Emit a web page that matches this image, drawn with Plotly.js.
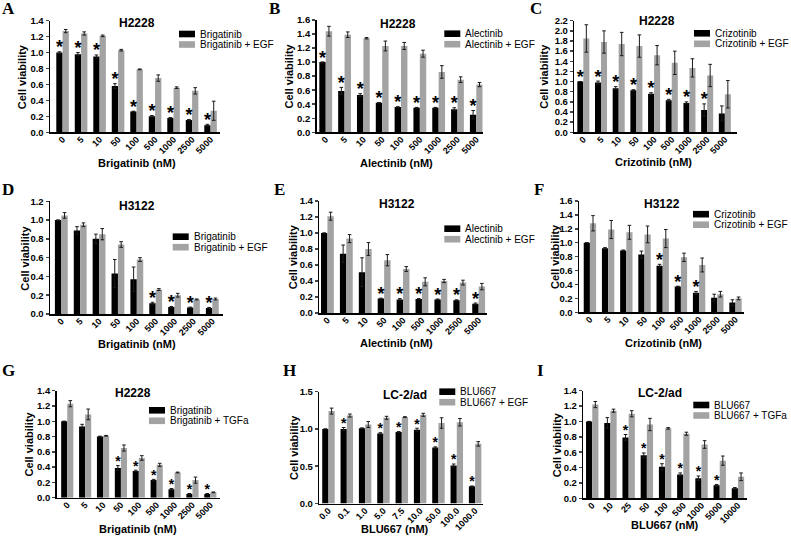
<!DOCTYPE html>
<html>
<head>
<meta charset="utf-8">
<script src="https://cdn.plot.ly/plotly-3.0.1.min.js"></script>
<style>html,body{margin:0;padding:0;background:#fff;}#chart{width:791px;height:541px;}</style>
</head>
<body>
<div id="chart"></div>
<script>
// ---------- Tick labels (doses) ----------
const dosesStd = ['0','5','10','50','100','500','1000','2500','5000'];
const dosesH = ['0.0','0.1','1.0','5.0','7.5','10.0','50.0','100.0','1000.0'];
const dosesI = ['0','10','25','50','100','500','1000','5000','10000'];

// ---------- A: H2228 Brigatinib ----------
const aDrug = [1.00,0.98,0.95,0.58,0.26,0.20,0.18,0.155,0.09];
const aDrugErr = [0.01,0.02,0.02,0.03,0.005,0.01,0.005,0.005,0.01];
const aEgf = [1.27,1.24,1.21,1.03,0.79,0.68,0.56,0.52,0.27];
const aEgfErr = [0.02,0.02,0.01,0.01,0.005,0.04,0.01,0.04,0.12];
const aStar = [1,1,1,1,1,1,1,1,1];
// ---------- B: H2228 Alectinib ----------
const bDrug = [1.00,0.59,0.53,0.42,0.36,0.35,0.35,0.33,0.25];
const bDrugErr = [0,0.05,0.02,0.005,0.005,0.005,0.005,0.02,0.06];
const bEgf = [1.44,1.39,1.34,1.23,1.23,1.12,0.86,0.75,0.68];
const bEgfErr = [0.07,0.04,0.01,0.07,0.05,0.05,0.09,0.04,0.03];
const bStar = [1,1,1,1,1,1,1,1,1];
// ---------- C: H2228 Crizotinib ----------
const cDrug = [1.00,0.98,0.87,0.83,0.76,0.63,0.58,0.44,0.37];
const cDrugErr = [0,0.03,0.03,0.01,0.02,0.02,0.02,0.12,0.15];
const cEgf = [1.85,1.78,1.74,1.70,1.52,1.37,1.27,1.12,0.75];
const cEgfErr = [0.27,0.22,0.23,0.22,0.19,0.23,0.18,0.22,0.27];
const cStar = [1,1,1,1,1,1,1,1,0];
// ---------- D: H3122 Brigatinib ----------
const dDrug = [1.00,0.89,0.80,0.43,0.37,0.115,0.075,0.068,0.065];
const dDrugErr = [0,0.04,0.05,0.15,0.13,0.01,0.005,0.005,0.005];
const dEgf = [1.05,0.95,0.85,0.74,0.58,0.26,0.20,0.155,0.16];
const dEgfErr = [0.03,0.02,0.06,0.03,0.02,0.01,0.02,0.005,0.01];
const dStar = [0,0,0,0,0,1,1,1,1];
// ---------- E: H3122 Alectinib ----------
const eDrug = [1.00,0.74,0.51,0.18,0.17,0.175,0.17,0.16,0.115];
const eDrugErr = [0,0.11,0.18,0.005,0.01,0.005,0.005,0.005,0.01];
const eEgf = [1.21,0.93,0.80,0.66,0.55,0.39,0.40,0.38,0.33];
const eEgfErr = [0.05,0.05,0.08,0.07,0.03,0.05,0.02,0.03,0.04];
const eStar = [0,0,0,1,1,1,1,1,1];
// ---------- F: H3122 Crizotinib ----------
const fDrug = [1.00,0.92,0.89,0.83,0.67,0.37,0.28,0.21,0.14];
const fDrugErr = [0,0.01,0.005,0.05,0.02,0.005,0.02,0.05,0.04];
const fEgf = [1.28,1.19,1.15,1.12,1.06,0.79,0.68,0.26,0.20];
const fEgfErr = [0.11,0.13,0.10,0.12,0.13,0.06,0.10,0.04,0.02];
const fStar = [0,0,0,0,1,1,1,0,0];
// ---------- G: H2228 Brigatinib + TGFa ----------
const gDrug = [1.00,0.93,0.80,0.39,0.35,0.23,0.11,0.05,0.05];
const gDrugErr = [0,0.03,0.005,0.03,0.01,0.01,0.01,0.005,0.005];
const gTgf = [1.23,1.09,0.81,0.65,0.52,0.43,0.33,0.23,0.07];
const gTgfErr = [0.04,0.07,0.005,0.04,0.03,0.02,0.005,0.04,0.005];
const gStar = [0,0,0,1,1,1,1,1,1];
// ---------- H: LC-2/ad BLU667 + EGF ----------
const hDrug = [1.00,1.00,1.01,0.94,0.96,0.99,0.75,0.51,0.23];
const hDrugErr = [0,0.02,0.005,0.01,0.005,0.02,0.01,0.02,0.005];
const hEgf = [1.24,1.18,1.06,1.15,1.16,1.19,1.08,1.09,0.80];
const hEgfErr = [0.04,0.02,0.04,0.02,0.005,0.02,0.07,0.05,0.03];
const hStar = [0,1,0,1,1,1,1,1,1];
// ---------- I: LC-2/ad BLU667 + TGFa ----------
const iDrug = [1.00,0.98,0.79,0.56,0.41,0.31,0.26,0.17,0.13];
const iDrugErr = [0,0.07,0.04,0.03,0.04,0.02,0.03,0.01,0.01];
const iTgf = [1.22,1.14,1.10,0.96,0.91,0.84,0.70,0.49,0.28];
const iTgfErr = [0.04,0.02,0.04,0.08,0.01,0.02,0.05,0.06,0.05];
const iStar = [0,0,1,1,1,1,1,1,0];

// ---------- Panel descriptions ----------
const panels = [
  {letter:'A', title:'H2228', drug:'Brigatinib', add:'Brigatinib + EGF', xtitle:'Brigatinib (nM)', labels:dosesStd, v1:aDrug, e1:aDrugErr, v2:aEgf, e2:aEgfErr, star:aStar, ymax:1.4, dtick:0.2,
   g:{x0:50,x1:220,yt:20.7,yb:132.3,xr:[-0.68,8.51], lx:179,ly:34,tx:137,ty:23,ytx:21.7,xtx:136.7,xty:163.3,Lx:8,Ly:9,star:18}},
  {letter:'B', title:'H2228', drug:'Alectinib', add:'Alectinib + EGF', xtitle:'Alectinib (nM)', labels:dosesStd, v1:bDrug, e1:bDrugErr, v2:bEgf, e2:bEgfErr, star:bStar, ymax:1.6, dtick:0.2,
   g:{x0:316.7,x1:482.7,yt:20,yb:132.3,xr:[-0.48,8.34], lx:444.3,ly:33.7,tx:398.3,ty:24,ytx:289.3,xtx:396.7,xty:163.3,Lx:274,Ly:9,star:18}},
  {letter:'C', title:'H2228', drug:'Crizotinib', add:'Crizotinib + EGF', xtitle:'Crizotinib (nM)', labels:dosesStd, v1:cDrug, e1:cDrugErr, v2:cEgf, e2:cEgfErr, star:cStar, ymax:2.2, dtick:0.2,
   g:{x0:574.3,x1:736.7,yt:20.7,yb:132.3,xr:[-0.51,8.67], lx:694,ly:33.3,tx:656.7,ty:21,ytx:543.3,xtx:653.3,xty:162,Lx:536,Ly:9,star:18}},
  {letter:'D', title:'H3122', drug:'Brigatinib', add:'Brigatinib + EGF', xtitle:'Brigatinib (nM)', labels:dosesStd, v1:dDrug, e1:dDrugErr, v2:dEgf, e2:dEgfErr, star:dStar, ymax:1.2, dtick:0.2,
   g:{x0:50,x1:222.7,yt:201.3,yb:314,xr:[-0.6,8.55], lx:172.7,ly:236.7,tx:136.7,ty:206,ytx:25,xtx:136.7,xty:344.3,Lx:8,Ly:189,star:18}},
  {letter:'E', title:'H3122', drug:'Alectinib', add:'Alectinib + EGF', xtitle:'Alectinib (nM)', labels:dosesStd, v1:eDrug, e1:eDrugErr, v2:eEgf, e2:eEgfErr, star:eStar, ymax:1.4, dtick:0.2,
   g:{x0:319.3,x1:486.6,yt:201,yb:313,xr:[-0.43,8.42], lx:444.3,ly:228.7,tx:396.7,ty:204,ytx:293.3,xtx:396.7,xty:343.3,Lx:279,Ly:189,star:18}},
  {letter:'F', title:'H3122', drug:'Crizotinib', add:'Crizotinib + EGF', xtitle:'Crizotinib (nM)', labels:dosesStd, v1:fDrug, e1:fDrugErr, v2:fEgf, e2:fEgfErr, star:fStar, ymax:1.6, dtick:0.2,
   g:{x0:579,x1:743.5,yt:201,yb:312.3,xr:[-0.6,8.44], lx:693,ly:214.2,tx:661.7,ty:204,ytx:554.3,xtx:663.3,xty:343,Lx:539,Ly:189,star:18}},
  {letter:'G', title:'H2228', drug:'Brigatinib', add:'Brigatinib + TGFa', xtitle:'Brigatinib (nM)', labels:dosesStd, v1:gDrug, e1:gDrugErr, v2:gTgf, e2:gTgfErr, star:gStar, ymax:1.4, dtick:0.2,
   g:{x0:56.7,x1:220,yt:390.7,yb:497.7,xr:[-0.59,8.54], lx:149,ly:410.3,tx:133.3,ty:393.3,ytx:29.3,xtx:138.3,xty:529.3,Lx:8,Ly:370,star:14}},
  {letter:'H', title:'LC-2/ad', drug:'BLU667', add:'BLU667 + EGF', xtitle:'BLU667 (nM)', labels:dosesH, v1:hDrug, e1:hDrugErr, v2:hEgf, e2:hEgfErr, star:hStar, ymax:1.5, dtick:0.5,
   g:{x0:319.3,x1:483,yt:391.7,yb:503.5,xr:[-0.5,8.43], lx:439.3,ly:391.7,tx:405,ty:395,ytx:293.3,xtx:395,xty:529,Lx:289,Ly:370,star:14}},
  {letter:'I', title:'LC-2/ad', drug:'BLU667', add:'BLU667 + TGFa', xtitle:'BLU667 (nM)', labels:dosesI, v1:iDrug, e1:iDrugErr, v2:iTgf, e2:iTgfErr, star:iStar, ymax:1.4, dtick:0.2,
   g:{x0:583.3,x1:746.7,yt:390.7,yb:498.3,xr:[-0.49,8.48], lx:693.3,ly:405,tx:660,ty:393.3,ytx:556.7,xtx:665,xty:524.5,Lx:540,Ly:370,star:14}}
];

const W = 791, H = 541;
const BLACK = '#000000', GRAY = '#a3a3a3';
const FONT = 'Liberation Sans, Arial, sans-serif';
const SERIF = 'Liberation Serif, Times New Roman, serif';
const BW = 0.34;

const traces = [];
const layout = {
  width: W, height: H, margin: {l:0, r:0, t:0, b:0},
  paper_bgcolor: '#fff', plot_bgcolor: 'rgba(0,0,0,0)',
  showlegend: false, barmode: 'overlay',
  font: {family: FONT, color: '#000'},
  annotations: [], shapes: []
};

panels.forEach((p, k) => {
  const n = k === 0 ? '' : String(k + 1);
  const xa = 'x' + n, ya = 'y' + n;
  const g = p.g;
  const idx = p.labels.map((_, i) => i);
  const errStyle = {type:'data', visible:true, color:'#1a1a1a', thickness:1, width:1.8};
  traces.push({type:'bar', x: idx.map(i => i - BW/2), y: p.v1, width: BW, marker:{color:BLACK, line:{width:0}},
    error_y: Object.assign({array: p.e1}, errStyle), xaxis: xa, yaxis: ya, hoverinfo:'skip'});
  traces.push({type:'bar', x: idx.map(i => i + BW/2), y: p.v2, width: BW, marker:{color:GRAY, line:{width:0}},
    error_y: Object.assign({array: p.e2}, errStyle), xaxis: xa, yaxis: ya, hoverinfo:'skip'});
  // significance stars
  const perPx = p.ymax / (g.yb - g.yt);
  const sx = [], sy = [];
  idx.forEach(i => { if (p.star[i]) { sx.push(i - BW/2); sy.push(p.v1[i] + p.e1[i] + 3 * perPx); } });
  traces.push({type:'scatter', mode:'text', x: sx, y: sy, text: sx.map(() => '*'), textposition:'middle center',
    textfont:{family: FONT, size: g.star, color:'#000', weight:'bold'}, xaxis: xa, yaxis: ya, hoverinfo:'skip', cliponaxis:false});

  const ticks = [];
  for (let t = 0; t <= p.ymax + 1e-9; t += p.dtick) ticks.push(+t.toFixed(2));
  layout['xaxis' + n] = {
    domain: [g.x0 / W, g.x1 / W], range: g.xr, anchor: ya,
    showline: true, linecolor:'#000', linewidth: 1.5, showgrid:false, zeroline:false,
    tickmode:'array', tickvals: idx, ticktext: p.labels, tickangle: -45, ticks:'', ticklabelstandoff: -3,
    tickfont:{family: FONT, size: 9, color:'#000', weight:'bold'}, fixedrange:true
  };
  layout['yaxis' + n] = {
    domain: [1 - g.yb / H, 1 - g.yt / H], range: [0, p.ymax], anchor: xa,
    showline: true, linecolor:'#000', linewidth: 1.5, showgrid:false, zeroline:false,
    tickmode:'array', tickvals: ticks, ticktext: ticks.map(t => t.toFixed(1)), ticks:'outside', ticklen: 3, tickwidth: 1.5,
    tickfont:{family: FONT, size: 9.5, color:'#000', weight:'bold'}, fixedrange:true
  };
  // panel letter
  layout.annotations.push({xref:'paper', yref:'paper', x: g.Lx / W, y: 1 - g.Ly / H, text: p.letter, showarrow:false,
    xanchor:'center', yanchor:'middle', font:{family: SERIF, size: 17, color:'#000', weight:'bold'}});
  // title
  layout.annotations.push({xref:'paper', yref:'paper', x: g.tx / W, y: 1 - g.ty / H, text: p.title, showarrow:false,
    xanchor:'center', yanchor:'middle', font:{family: FONT, size: 12, color:'#000', weight:'bold'}});
  // y title
  layout.annotations.push({xref:'paper', yref:'paper', x: g.ytx / W, y: 1 - ((g.yt + g.yb) / 2) / H, text: 'Cell viability', showarrow:false,
    textangle: -90, xanchor:'center', yanchor:'middle', font:{family: FONT, size: 11, color:'#000', weight:'bold'}});
  // x title
  layout.annotations.push({xref:'paper', yref:'paper', x: g.xtx / W, y: 1 - g.xty / H, text: p.xtitle, showarrow:false,
    xanchor:'center', yanchor:'middle', font:{family: FONT, size: 11, color:'#000', weight:'bold'}});
  // legend (swatches + labels)
  [[BLACK, p.drug], [GRAY, p.add]].forEach((it, r) => {
    const cy = g.ly + r * 10.5;
    layout.shapes.push({type:'rect', xref:'paper', yref:'paper', x0: g.lx / W, x1: (g.lx + 16) / W,
      y0: 1 - (cy + 3.3) / H, y1: 1 - (cy - 3.3) / H, fillcolor: it[0], line:{width:0}});
    layout.annotations.push({xref:'paper', yref:'paper', x: (g.lx + 19) / W, y: 1 - cy / H, text: it[1], showarrow:false,
      xanchor:'left', yanchor:'middle', font:{family: FONT, size: 10, color:'#000'}});
  });
});

Plotly.newPlot('chart', traces, layout, {staticPlot:true, displayModeBar:false});
</script>
</body>
</html>
